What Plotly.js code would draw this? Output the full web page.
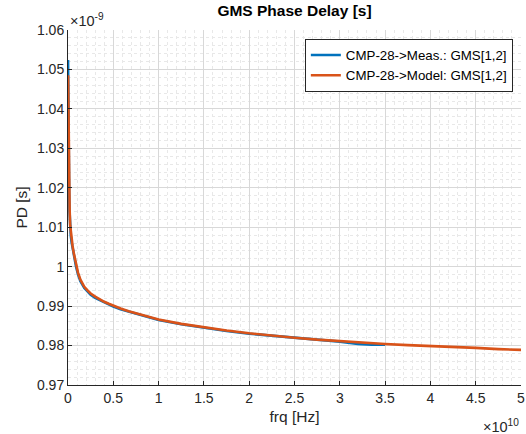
<!DOCTYPE html>
<html>
<head>
<meta charset="utf-8">
<script src="https://cdn.plot.ly/plotly-3.0.1.min.js"></script>
<style>html,body{margin:0;padding:0;background:#fff;}#chart{width:526px;height:434px;}</style>
</head>
<body>
<div id="chart"></div>
<script>
// frequency in units of 1e10 Hz, phase delay in units of 1e-9 s
var freqModel = [0.001, 0.003, 0.006, 0.009, 0.013, 0.018, 0.024, 0.032, 0.041, 0.05, 0.063, 0.075, 0.089, 0.11, 0.137, 0.18, 0.21, 0.25, 0.3, 0.35, 0.4, 0.45, 0.5, 0.58, 0.67, 0.76, 0.9, 1.0, 1.25, 1.5, 1.75, 2.0, 2.25, 2.5, 2.75, 3.0, 3.25, 3.5, 3.75, 4.0, 4.25, 4.5, 4.75, 5.0];
var pdModel = [1.0485, 1.042, 1.034, 1.027, 1.020, 1.0145, 1.0105, 1.0085, 1.0068, 1.0053, 1.0035, 1.0020, 1.0004, 0.9985, 0.9967, 0.9949, 0.9941, 0.9932, 0.9924, 0.9917, 0.9911, 0.9906, 0.9901, 0.9894, 0.9887, 0.9881, 0.9872, 0.9866, 0.9855, 0.9846, 0.9838, 0.9831, 0.9825, 0.9820, 0.9815, 0.9811, 0.9807, 0.9804, 0.9801, 0.9799, 0.9796, 0.9794, 0.9791, 0.9789];
var freqMeas = [0.0005, 0.002, 0.005, 0.008, 0.012, 0.017, 0.023, 0.031, 0.04, 0.05, 0.063, 0.075, 0.089, 0.11, 0.137, 0.18, 0.21, 0.25, 0.3, 0.35, 0.4, 0.45, 0.5, 0.58, 0.67, 0.76, 0.9, 1.0, 1.25, 1.5, 1.75, 2.0, 2.25, 2.5, 2.75, 3.0, 3.2, 3.35, 3.5];
var pdMeas = [1.0524, 1.044, 1.035, 1.027, 1.0195, 1.014, 1.0098, 1.0078, 1.0062, 1.0048, 1.0030, 1.0015, 1.0000, 0.9981, 0.9963, 0.9946, 0.9938, 0.9929, 0.9921, 0.9915, 0.9909, 0.9904, 0.9899, 0.9892, 0.9886, 0.9880, 0.9871, 0.9865, 0.9854, 0.9845, 0.9837, 0.9830, 0.9825, 0.9819, 0.9814, 0.9810, 0.9804, 0.9802, 0.9802];
var seriesNames = ["CMP-28->Meas.: GMS[1,2]", "CMP-28->Model: GMS[1,2]"];
var xTickVals = [0, 0.5, 1, 1.5, 2, 2.5, 3, 3.5, 4, 4.5, 5];
var xTickText = ["0", "0.5", "1", "1.5", "2", "2.5", "3", "3.5", "4", "4.5", "5"];
var yTickVals = [0.97, 0.98, 0.99, 1.0, 1.01, 1.02, 1.03, 1.04, 1.05, 1.06];
var yTickText = ["0.97", "0.98", "0.99", "1", "1.01", "1.02", "1.03", "1.04", "1.05", "1.06"];

var font = "Liberation Sans, Arial, Helvetica, sans-serif";
var txt = "#262626";

var traces = [
  {x: freqMeas, y: pdMeas, name: seriesNames[0], mode: "lines", line: {color: "#0072BD", width: 2.6}},
  {x: freqModel, y: pdModel, name: seriesNames[1], mode: "lines", line: {color: "#D95319", width: 2.6}}
];

var layout = {
  width: 526, height: 434,
  margin: {l: 68, r: 5, t: 30, b: 49},
  paper_bgcolor: "#ffffff", plot_bgcolor: "#ffffff",
  font: {family: font, size: 14, color: txt},
  showlegend: true,
  title: {text: "<b>GMS Phase Delay [s]</b>", font: {family: font, size: 15.5, color: "#000"}, x: 0.5, xref: "paper", xanchor: "center", y: 0.975, yref: "container", yanchor: "middle"},
  xaxis: {
    range: [0, 5], tickvals: xTickVals, ticktext: xTickText, ticks: "inside", ticklen: 4, tickcolor: txt,
    showline: true, linecolor: txt, linewidth: 1, zeroline: false,
    showgrid: true, gridcolor: "#d8d8d8", gridwidth: 1,
    minor: {dtick: 0.1, showgrid: true, gridcolor: "#e8e8e8", griddash: "dot", ticks: ""},
    tickfont: {family: font, size: 14, color: txt},
    title: {text: "frq [Hz]", font: {family: font, size: 15.5, color: txt}, standoff: 6},
    automargin: false, fixedrange: true
  },
  yaxis: {
    range: [0.97, 1.06], tickvals: yTickVals, ticktext: yTickText, ticks: "inside", ticklen: 4, tickcolor: txt,
    showline: true, linecolor: txt, linewidth: 1, zeroline: false,
    showgrid: true, gridcolor: "#d8d8d8", gridwidth: 1,
    minor: {dtick: 0.002, showgrid: true, gridcolor: "#e8e8e8", griddash: "dot", ticks: ""},
    tickfont: {family: font, size: 14, color: txt},
    title: {text: "PD [s]", font: {family: font, size: 15.5, color: txt}, standoff: 5},
    automargin: false, fixedrange: true
  },
  legend: {
    x: 0.982, y: 0.975, xanchor: "right", yanchor: "top",
    bgcolor: "#ffffff", bordercolor: "#262626", borderwidth: 1,
    font: {family: font, size: 13.3, color: "#000"},
    tracegroupgap: 0, itemwidth: 30
  },
  annotations: [
    {text: "×10<sup>-9</sup>", xref: "paper", yref: "paper", x: 0, y: 1, xanchor: "left", yanchor: "bottom", showarrow: false, font: {family: font, size: 14.5, color: txt}, yshift: -1, xshift: 0},
    {text: "×10<sup>10</sup>", xref: "paper", yref: "paper", x: 1, y: 0, xanchor: "right", yanchor: "top", showarrow: false, font: {family: font, size: 14.5, color: txt}, yshift: -30}
  ],
  hovermode: false
};

Plotly.newPlot("chart", traces, layout, {displayModeBar: false, staticPlot: true});
</script>
</body>
</html>
